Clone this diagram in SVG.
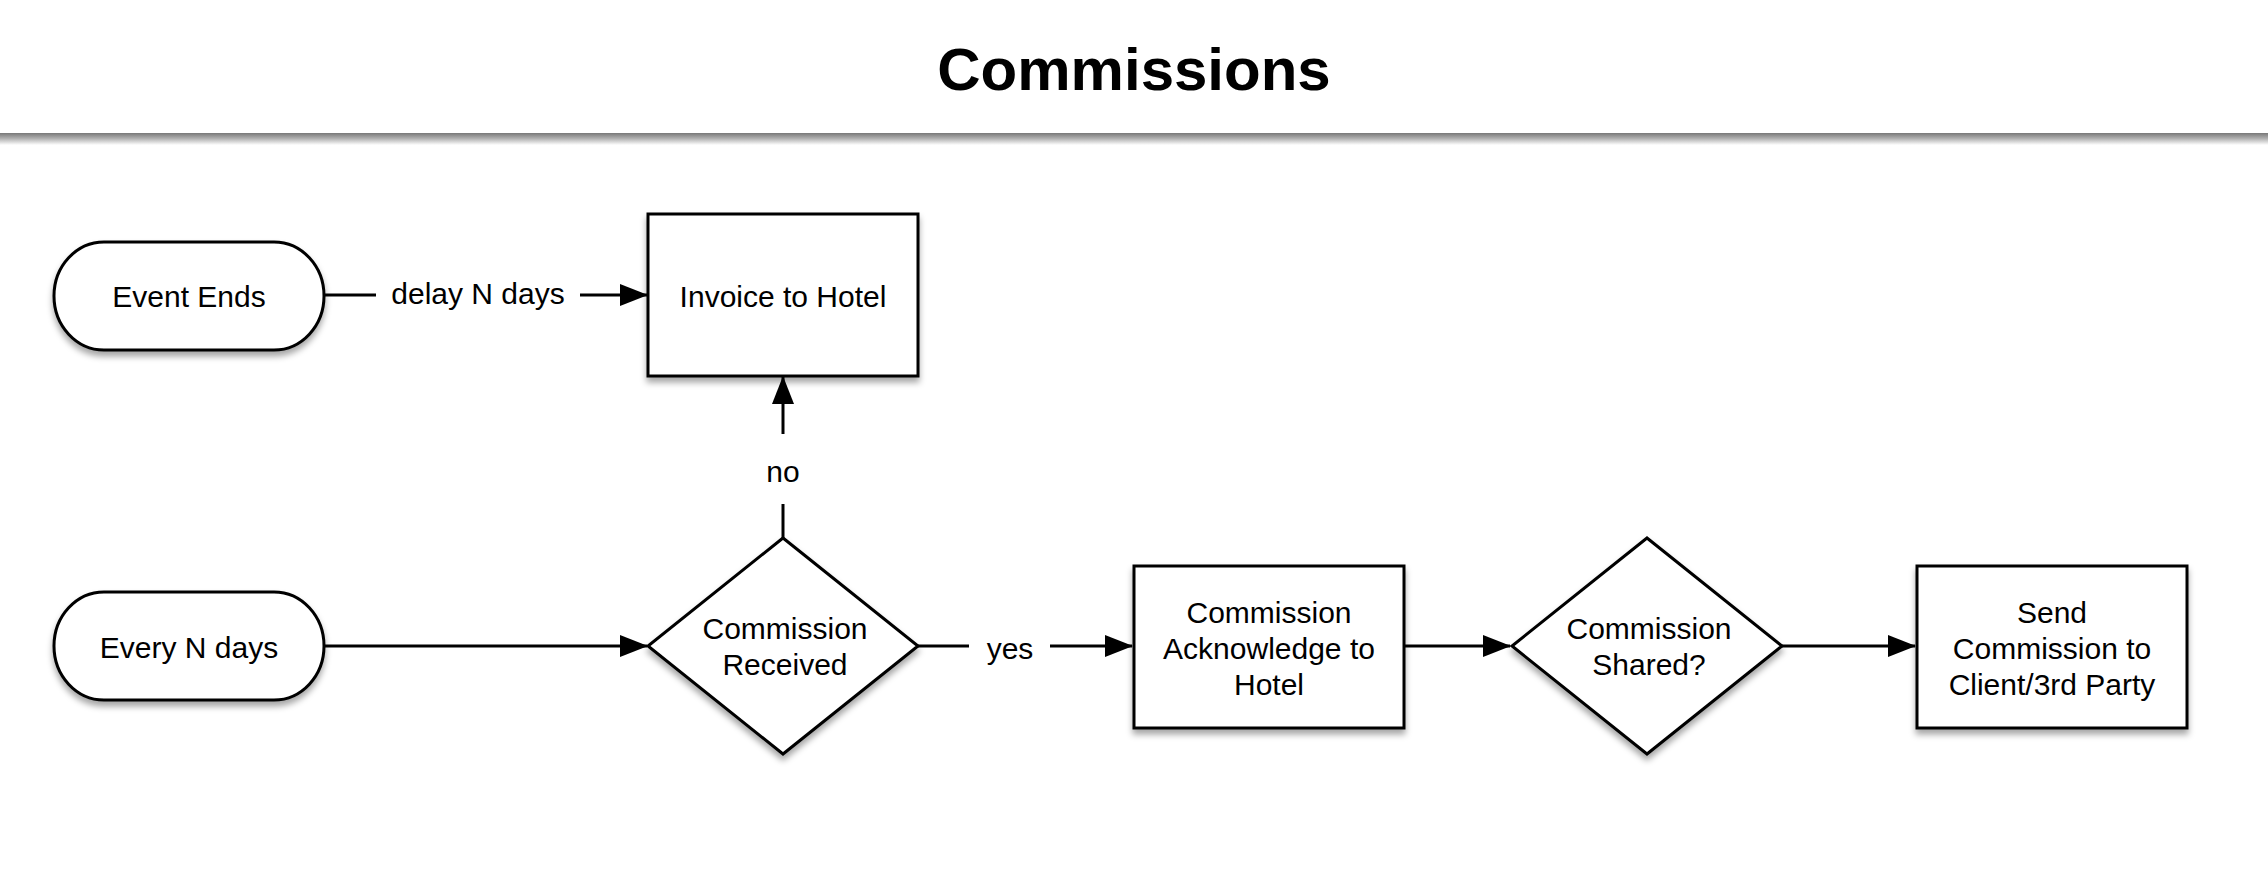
<svg xmlns="http://www.w3.org/2000/svg" width="2268" height="891" viewBox="0 0 2268 891">
<defs>
<filter id="sh" x="-10%" y="-10%" width="120%" height="130%">
<feDropShadow dx="0" dy="5" stdDeviation="3" flood-color="#000" flood-opacity="0.35"/>
</filter>
<linearGradient id="hg" x1="0" y1="0" x2="0" y2="1">
<stop offset="0" stop-color="#6e6e6e"/>
<stop offset="0.5" stop-color="#b0b0b0"/>
<stop offset="1" stop-color="#ffffff"/>
</linearGradient>
<marker id="ah" markerWidth="28" markerHeight="22" refX="27" refY="11" orient="auto" markerUnits="userSpaceOnUse">
<path d="M0,0 L28,11 L0,22 Z" fill="#000"/>
</marker>
<style>
.n{fill:#fff;stroke:#000;stroke-width:3;filter:url(#sh)}
.t{font-family:"Liberation Sans",Arial,sans-serif;font-size:30px;fill:#000;text-anchor:middle;dominant-baseline:central}
.c{fill:none;stroke:#000;stroke-width:3}
</style>
</defs>
<rect width="2268" height="891" fill="#fff"/>
<g id="header">
<rect x="0" y="132" width="2268" height="13" fill="url(#hg)"/>
<rect x="0" y="0" width="2268" height="133" fill="#fff"/>
<text x="1134" y="90" font-family="Liberation Sans,Arial,sans-serif" font-size="60" font-weight="bold" text-anchor="middle" fill="#000">Commissions</text>
</g>
<g id="connectors">
<line class="c" x1="324" y1="295" x2="376" y2="295"/>
<line class="c" x1="580" y1="295" x2="647" y2="295" marker-end="url(#ah)"/>
<text class="t" x="478" y="293">delay N days</text>
<line class="c" x1="783" y1="538" x2="783" y2="504"/>
<line class="c" x1="783" y1="434" x2="783" y2="377" marker-end="url(#ah)"/>
<text class="t" x="783" y="471">no</text>
<line class="c" x1="324" y1="646" x2="647" y2="646" marker-end="url(#ah)"/>
<line class="c" x1="918" y1="646" x2="969" y2="646"/>
<line class="c" x1="1050" y1="646" x2="1132" y2="646" marker-end="url(#ah)"/>
<text class="t" x="1010" y="648">yes</text>
<line class="c" x1="1404" y1="646" x2="1510" y2="646" marker-end="url(#ah)"/>
<line class="c" x1="1782" y1="646" x2="1915" y2="646" marker-end="url(#ah)"/>
</g>
<g id="event-ends">
<rect class="n" x="54" y="242" width="270" height="108" rx="50" ry="54"/>
<text class="t" x="189" y="296">Event Ends</text>
</g>
<g id="invoice-to-hotel">
<rect class="n" x="648" y="214" width="270" height="162"/>
<text class="t" x="783" y="296">Invoice to Hotel</text>
</g>
<g id="every-n-days">
<rect class="n" x="54" y="592" width="270" height="108" rx="50" ry="54"/>
<text class="t" x="189" y="647">Every N days</text>
</g>
<g id="commission-received">
<polygon class="n" points="783,538 918,646 783,754 648,646"/>
<text class="t" x="785" y="628">Commission</text>
<text class="t" x="785" y="664">Received</text>
</g>
<g id="commission-acknowledge">
<rect class="n" x="1134" y="566" width="270" height="162"/>
<text class="t" x="1269" y="612">Commission</text>
<text class="t" x="1269" y="648">Acknowledge to</text>
<text class="t" x="1269" y="684">Hotel</text>
</g>
<g id="commission-shared">
<polygon class="n" points="1647,538 1782,646 1647,754 1512,646"/>
<text class="t" x="1649" y="628">Commission</text>
<text class="t" x="1649" y="664">Shared?</text>
</g>
<g id="send-commission">
<rect class="n" x="1917" y="566" width="270" height="162"/>
<text class="t" x="2052" y="612">Send</text>
<text class="t" x="2052" y="648">Commission to</text>
<text class="t" x="2052" y="684">Client/3rd Party</text>
</g>
</svg>
